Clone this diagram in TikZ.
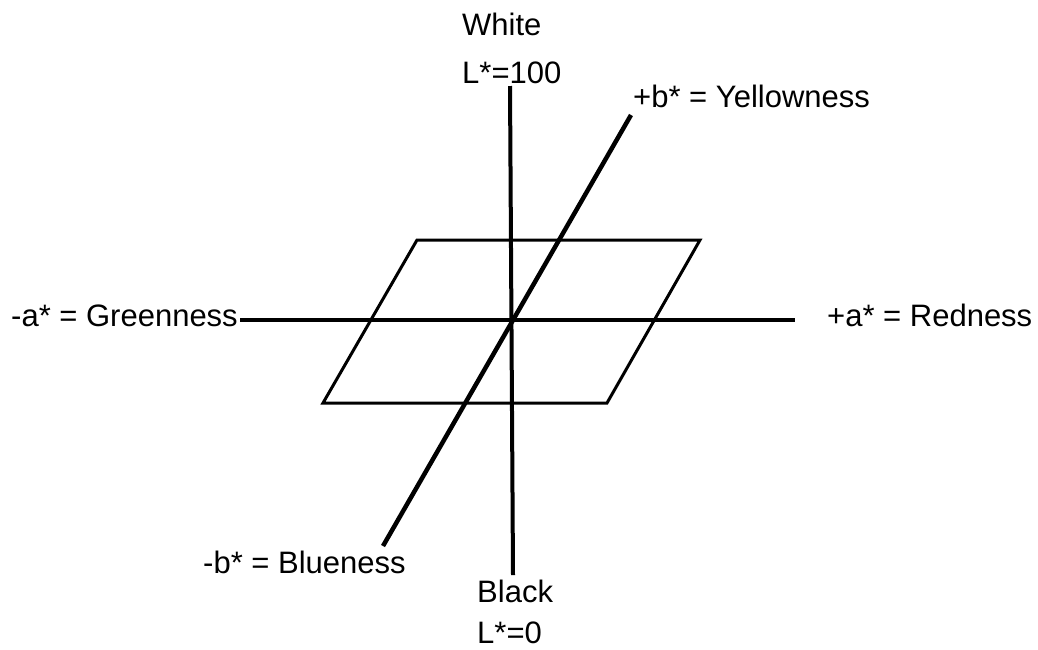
\documentclass[tikz,border=0pt]{standalone}
\usepackage{fontspec}
\setmainfont{Liberation Sans}
\begin{document}
\begin{tikzpicture}[x=1pt,y=-1pt,
  lbl/.style={anchor=base west,inner sep=0pt,font=\fontsize{31}{37}\selectfont},
  axis/.style={line width=4pt},
  diag/.style={line width=4.5pt},
  plane/.style={line width=3pt,line join=miter}]
\useasboundingbox (0,0) rectangle (1038,649);
% labels
\node[lbl] (white) at (462,35) {White};
\node[lbl] (lwhite) at (462,83) {L*=100};
\node[lbl] (yellow) at (633,107) {+b* = Yellowness};
\node[lbl] (green) at (11,326) {-a* = Greenness};
\node[lbl] (red) at (827,326) {+a* = Redness};
\node[lbl] (blue) at (203,573) {-b* = Blueness};
\node[lbl] (black) at (477,602) {Black};
\node[lbl] (lblack) at (477,643) {L*=0};
% axis ends
\coordinate (ltop) at (510,86);
\coordinate (lbot) at (513,575);
\coordinate (aleft) at (240,320);
\coordinate (aright) at (795,320);
\coordinate (btop) at (631,115);
\coordinate (bbot) at (383,546);
% plane
\coordinate (p1) at (417,240);
\coordinate (p2) at (700,240);
\coordinate (p3) at (607,403);
\coordinate (p4) at (323,403);
\draw[plane] (p1) -- (p2) -- (p3) -- (p4) -- cycle;
% axes
\draw[axis] (aleft) -- (aright);
\draw[axis] (ltop) -- (lbot);
\draw[diag] (btop) -- (bbot);
\end{tikzpicture}
\end{document}
